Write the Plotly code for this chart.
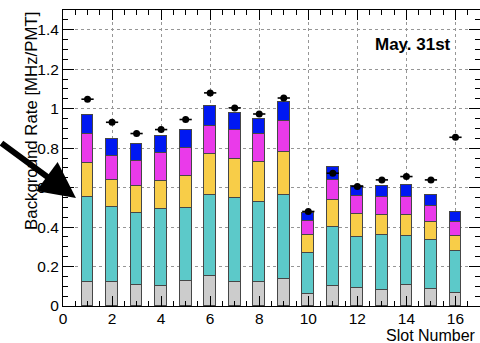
import plotly.graph_objects as go

# Slot-by-slot background rate components (MHz/PMT), stacked bottom to top
slots = list(range(1, 17))
gray_comp = [0.123, 0.123, 0.106, 0.103, 0.127, 0.152, 0.120, 0.121,
             0.135, 0.061, 0.101, 0.091, 0.083, 0.106, 0.086, 0.066]
teal_comp = [0.427, 0.377, 0.366, 0.388, 0.369, 0.413, 0.427, 0.405,
             0.430, 0.206, 0.297, 0.258, 0.278, 0.250, 0.246, 0.214]
yellow_comp = [0.177, 0.140, 0.134, 0.145, 0.165, 0.203, 0.197, 0.203,
               0.216, 0.091, 0.138, 0.117, 0.101, 0.104, 0.095, 0.076]
magenta_comp = [0.147, 0.121, 0.129, 0.138, 0.140, 0.146, 0.148, 0.141,
                0.159, 0.071, 0.102, 0.091, 0.091, 0.090, 0.081, 0.071]
blue_comp = [0.096, 0.084, 0.088, 0.090, 0.090, 0.100, 0.085, 0.076,
             0.096, 0.043, 0.065, 0.052, 0.053, 0.064, 0.055, 0.047]
# Measured total rate per slot
measured = [1.048, 0.931, 0.874, 0.894, 0.945, 1.080, 1.004, 0.973,
            1.054, 0.479, 0.673, 0.606, 0.639, 0.656, 0.639, 0.855]
x_half_width = [0.25] * len(slots)

xticks = list(range(0, 17, 2))
yticks = [0, 0.2, 0.4, 0.6, 0.8, 1.0, 1.2, 1.4]

FONT = "Liberation Sans, Arial, Helvetica, sans-serif"
components = [
    (gray_comp, "rgb(204,204,204)"),
    (teal_comp, "rgb(92,201,201)"),
    (yellow_comp, "rgb(248,205,72)"),
    (magenta_comp, "rgb(234,58,234)"),
    (blue_comp, "rgb(0,24,242)"),
]

fig = go.Figure()
for values, color in components:
    fig.add_trace(go.Bar(
        x=slots, y=values, width=0.48,
        marker=dict(color=color, line=dict(color="rgb(70,70,70)", width=1.5)),
        showlegend=False, hoverinfo="skip",
    ))

fig.add_trace(go.Scatter(
    x=slots, y=measured, mode="markers",
    marker=dict(color="black", size=7, symbol="circle"),
    error_x=dict(type="data", array=x_half_width, color="black",
                 thickness=1.6, width=0),
    showlegend=False, hoverinfo="skip",
))

axis_common = dict(
    showline=True, linecolor="black", linewidth=1, mirror="allticks",
    ticks="inside", tickcolor="black", zeroline=False,
    showgrid=True, gridcolor="rgb(150,150,150)", griddash="dot", gridwidth=1,
    tickfont=dict(family=FONT, size=15.5, color="black"),
)

fig.update_layout(
    width=480, height=343,
    margin=dict(l=63, r=0, t=10, b=37),
    paper_bgcolor="white", plot_bgcolor="white",
    barmode="stack", bargap=0,
    font=dict(family=FONT, color="black"),
    xaxis=dict(range=[0, 17], tickvals=xticks, ticklen=10,
               ticklabelstandoff=-2,
               minor=dict(ticks="inside", dtick=0.5, tick0=0, ticklen=5,
                          tickcolor="black", showgrid=False),
               **axis_common),
    yaxis=dict(range=[0, 1.5], tickvals=yticks, ticklen=11,
               minor=dict(ticks="inside", dtick=0.05, tick0=0, ticklen=5,
                          tickcolor="black", showgrid=False),
               **axis_common),
    annotations=[
        dict(text="Background Rate [MHz/PMT]", xref="paper", yref="paper",
             x=-0.077, y=1.0, xanchor="center", yanchor="top",
             textangle=-90, showarrow=False,
             font=dict(family=FONT, size=16.8, color="black")),
        dict(text="Slot Number", xref="paper", yref="paper",
             x=0.995, y=-0.098, xanchor="right", yanchor="middle",
             showarrow=False, font=dict(family=FONT, size=16, color="black")),
        dict(text="<b>May. 31st</b>", xref="paper", yref="paper",
             x=0.8405, y=0.882, xanchor="center", yanchor="middle",
             showarrow=False, font=dict(family=FONT, size=17, color="black")),
        dict(text="", xref="paper", yref="paper", x=0.031, y=0.365,
             ax=-84, ay=-56, showarrow=True, arrowhead=2, arrowsize=1.2,
             arrowwidth=6, arrowcolor="black"),
    ],
)

fig.write_html("out.html")
